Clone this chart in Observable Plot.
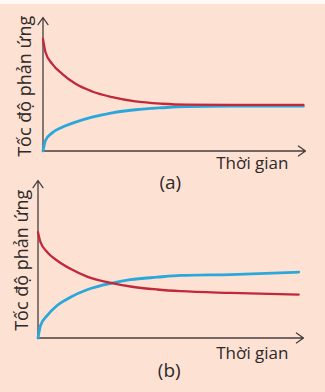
<!DOCTYPE html>
<html>
<head>
<meta charset="utf-8">
<script src="https://cdn.jsdelivr.net/npm/d3@7"></script>
<script src="https://cdn.jsdelivr.net/npm/@observablehq/plot@0.6"></script>
<style>
  html, body { margin: 0; padding: 0; }
  body { width: 325px; height: 392px; background: #fde2d4; position: relative; overflow: hidden; font-family: "Open Sans", sans-serif; }
  .topband { position: absolute; left: 0; top: 0; width: 325px; height: 4px; background: #fff8f4; }
  .panel { position: absolute; left: 0; }
</style>
</head>
<body>
<div class="topband"></div>
<div id="pa" class="panel" style="top:0px"></div>
<div id="pb" class="panel" style="top:170px"></div>
<script>
// Panel (a): time (0-100) and reaction rates
const timeA    = [0, 0.95, 3.5, 7.3, 12.4, 18.7, 26.4, 35.2, 45.4, 54.3, 71.4, 99.2];
const forwardA = [84.0, 74.0, 65.3, 57.8, 50.3, 44.6, 40.3, 37.1, 35.4, 34.7, 34.5, 34.5];
const reverseA = [0, 7.9, 13.6, 17.8, 21.6, 25.3, 28.6, 30.9, 32.4, 33.3, 33.6, 33.6];

// Panel (b)
const timeB    = [0, 0.94, 3.5, 7.2, 12.2, 18.5, 27.9, 34.8, 44.9, 53.7, 72.5, 98.2];
const forwardB = [67.2, 60.8, 54.5, 49.2, 43.9, 39.0, 34.8, 32.7, 30.8, 29.7, 28.6, 27.6];
const reverseB = [0, 7.9, 14.3, 20.6, 25.9, 30.6, 34.8, 37.0, 38.6, 39.7, 40.3, 41.8];

const yLabel = "Tốc độ phản ứng";
const xLabel = "Thời gian";
const panelLabels = ["(a)", "(b)"];
const axisExtent = 100;

const RED = "#c1283a";
const BLUE = "#2ba7db";
const AXIS = "#463e3e";
const TEXT = "#2f2929";

function rows(t, v) { return t.map((d, i) => ({t: d, v: v[i]})); }

function panel({time, fwd, rev, label, width, height, mt, mb, ml, mr, yLabDx, yLabDy, xLabDx, xLabDy, pLabDx, pLabDy}) {
  const axes = [
    {x1: 0, y1: 0, x2: axisExtent, y2: 0},
    {x1: 0, y1: 0, x2: 0, y2: axisExtent}
  ];
  return Plot.plot({
    width, height,
    marginTop: mt, marginBottom: mb, marginLeft: ml, marginRight: mr,
    style: {background: "transparent", overflow: "visible", fontFamily: "'Open Sans', sans-serif"},
    x: {domain: [0, axisExtent], axis: null},
    y: {domain: [0, axisExtent], axis: null},
    marks: [
      Plot.arrow(axes, {x1: "x1", y1: "y1", x2: "x2", y2: "y2", stroke: AXIS, strokeWidth: 1.3, headLength: 10, headAngle: 70}),
      Plot.line(rows(time, rev), {x: "t", y: "v", stroke: BLUE, strokeWidth: 2.8, curve: "monotone-x"}),
      Plot.line(rows(time, fwd), {x: "t", y: "v", stroke: RED, strokeWidth: 2.3, curve: "monotone-x"}),
      Plot.text([xLabel], {frameAnchor: "bottom-right", textAnchor: "end", lineAnchor: "middle", dx: xLabDx, dy: xLabDy, fontSize: 17, fill: TEXT}),
      Plot.text([label], {frameAnchor: "bottom", textAnchor: "middle", lineAnchor: "middle", dx: pLabDx, dy: pLabDy, fontSize: 19, fill: TEXT}),
      Plot.text([yLabel], {frameAnchor: "left", textAnchor: "middle", rotate: -90, lineAnchor: "middle", dx: yLabDx, dy: yLabDy, fontSize: 18, fill: TEXT})
    ]
  });
}

document.getElementById("pa").append(panel({
  time: timeA, fwd: forwardA, rev: reverseA, label: panelLabels[0],
  width: 325, height: 200, mt: 17, mb: 49.5, ml: 42.5, mr: 20,
  yLabDx: -17.5, yLabDy: 2, xLabDx: -17, xLabDy: 13, pLabDx: -4, pLabDy: 31.5
}));
document.getElementById("pb").append(panel({
  time: timeB, fwd: forwardB, rev: reverseB, label: panelLabels[1],
  width: 325, height: 222, mt: 10, mb: 54.5, ml: 37.5, mr: 22,
  yLabDx: -15.5, yLabDy: 1, xLabDx: -15, xLabDy: 15.5, pLabDx: -1.5, pLabDy: 32.5
}));
</script>
</body>
</html>
